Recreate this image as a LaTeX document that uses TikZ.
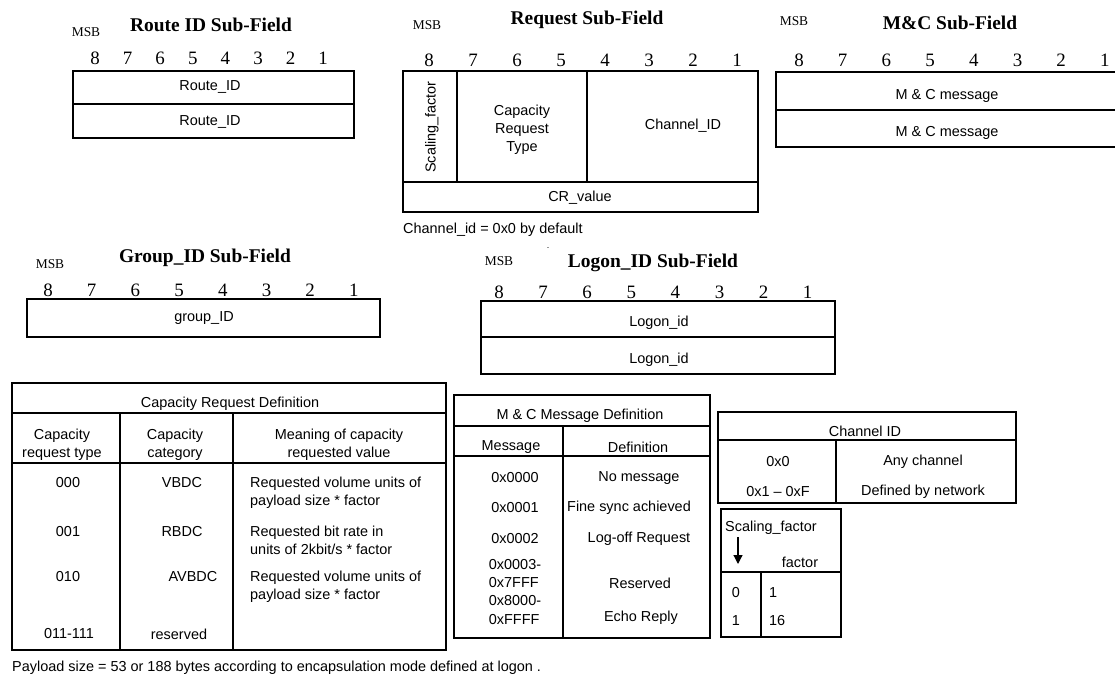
\documentclass[tikz,border=0pt]{standalone}
\usepackage{fontspec}
\setmainfont{Liberation Serif}
\setsansfont{Liberation Sans}
\usetikzlibrary{arrows.meta}
\tikzset{
  lbl/.style={font=\sffamily\fontsize{14.5}{18}\selectfont, inner sep=0pt, align=center},
  lbll/.style={font=\sffamily\fontsize{14.5}{18.5}\selectfont, inner sep=0pt, align=left},
  ttl/.style={font=\bfseries\fontsize{19.5}{22}\selectfont, inner sep=0pt},
  dig/.style={font=\fontsize{19}{21}\selectfont, inner sep=0pt},
  msb/.style={font=\fontsize{13.5}{15}\selectfont, inner sep=0pt},
  box/.style={draw, line width=1.2bp},
  thk/.style={draw, line width=2.4bp},
}
\begin{document}
\begin{tikzpicture}[x=1bp,y=-1bp]
\useasboundingbox (0,0) rectangle (1115,677);

% ---------- Route ID ----------
\node[msb] (rmsb) at (86,32) {MSB};
\node[ttl] (rttl) at (211,25) {Route ID Sub-Field};
\foreach \d [count=\i from 0] in {8,7,6,5,4,3,2,1}
  \node[dig] (rd\d) at ({95+32.6*\i},58) {\d};
\draw[box] (73,71) rectangle (354,138);
\draw[box] (73,104) -- (354,104);
\node[lbl] (r1) at (210,87) {Route\_ID};
\node[lbl] (r2) at (210,122) {Route\_ID};

% ---------- Request ----------
\node[msb] (qmsb) at (427,25) {MSB};
\node[ttl] (qttl) at (587,20) {Request Sub-Field};
\foreach \d [count=\i from 0] in {8,7,6,5,4,3,2,1}
  \node[dig] (qd\d) at ({429+44*\i},60) {\d};
\draw[box] (403,71) rectangle (758,212);
\draw[thk] (403,182) -- (758,182);
\draw[box] (457,71) -- (457,182);
\draw[box] (587,71) -- (587,182);
\node[lbl, rotate=90] (qsf) at (432,127) {Scaling\_factor};
\node[lbl] (qcrt) at (522,130) {Capacity\\Request\\Type};
\node[lbl] (qch) at (683,126) {Channel\_ID};
\node[lbl] (qcr) at (580,198) {CR\_value};
\node[lbl, anchor=west] (qnote) at (403,230) {Channel\_id = 0x0 by default};
\node[font=\sffamily\fontsize{9}{9}\selectfont, inner sep=0pt, anchor=base] (qdot) at (548,248.5) {.};

% ---------- M&C ----------
\node[msb] (mmsb) at (794,21) {MSB};
\node[ttl] (mttl) at (950,23) {M\&C Sub-Field};
\foreach \d [count=\i from 0] in {8,7,6,5,4,3,2,1}
  \node[dig] (md\d) at ({799+43.7*\i},60) {\d};
\draw[box] (1115,72) -- (776,72) -- (776,147) -- (1115,147);
\draw[thk] (776,110) -- (1115,110);
\node[lbl] (m1) at (947,96) {M \& C message};
\node[lbl] (m2) at (947,133) {M \& C message};

% ---------- Group_ID ----------
\node[msb] (gmsb) at (50,264) {MSB};
\node[ttl] (gttl) at (205,258) {Group\_ID Sub-Field};
\foreach \d [count=\i from 0] in {8,7,6,5,4,3,2,1}
  \node[dig] (gd\d) at ({48+43.7*\i},290) {\d};
\draw[box] (27,299) rectangle (380,337);
\node[lbl] (g1) at (204,318) {group\_ID};

% ---------- Logon_ID ----------
\node[msb] (lmsb) at (499,261) {MSB};
\node[ttl] (lttl) at (653,263) {Logon\_ID Sub-Field};
\foreach \d [count=\i from 0] in {8,7,6,5,4,3,2,1}
  \node[dig] (ld\d) at ({499+44.1*\i},292) {\d};
\draw[box] (481,301) rectangle (835,374);
\draw[thk] (481,337) -- (835,337);
\node[lbl] (l1) at (659,323) {Logon\_id};
\node[lbl] (l2) at (659,360) {Logon\_id};

% ---------- Capacity Request Definition table ----------
\draw[box] (12,383) rectangle (446,650);
\draw[box] (12,413) -- (446,413);
\draw[box] (12,463) -- (446,463);
\draw[box] (120,413) -- (120,650);
\draw[box] (233,413) -- (233,650);
\node[lbl] (ct) at (230,404) {Capacity Request Definition};
\node[lbl] (ch1) at (62,444.5) {Capacity\\request type};
\node[lbl] (ch2) at (175,444.5) {Capacity\\category};
\node[lbl] (ch3) at (339,444.5) {Meaning of capacity\\requested value};
\node[lbl] (c11) at (68,483) {000};
\node[lbl] (c12) at (182,483) {VBDC};
\node[lbll, anchor=west] (c13) at (250,492.5) {Requested volume units of\\payload size * factor};
\node[lbl] (c21) at (68,532) {001};
\node[lbl] (c22) at (182,532) {RBDC};
\node[lbll, anchor=west] (c23) at (250,540.5) {Requested bit rate in\\units of 2kbit/s * factor};
\node[lbl] (c31) at (68,577) {010};
\node[lbl] (c32) at (193,577) {AVBDC};
\node[lbll, anchor=west] (c33) at (250,586.5) {Requested volume units of\\payload size * factor};
\node[lbl] (c41) at (69,634) {011-111};
\node[lbl] (c42) at (179,634) {reserved};
\node[lbl, anchor=west] (pay) at (12,668) {Payload size = 53 or 188 bytes according to encapsulation mode defined at logon .};

% ---------- M & C Message Definition table ----------
\draw[box] (454,395) rectangle (710,638);
\draw[box] (454,426) -- (710,426);
\draw[box] (454,456) -- (710,456);
\draw[box] (563,426) -- (563,638);
\node[lbl] (mt) at (580,416) {M \& C Message Definition};
\node[lbl] (mh1) at (511,447) {Message};
\node[lbl] (mh2) at (638,447) {Definition};
\node[lbl] (m11) at (515,478) {0x0000};
\node[lbl] (m12) at (639,478) {No message};
\node[lbl] (m21) at (515,508) {0x0001};
\node[lbl] (m22) at (629,508) {Fine sync achieved};
\node[lbl] (m31) at (515,539) {0x0002};
\node[lbl] (m32) at (639,539) {Log-off Request};
\node[lbll] (m41) at (515,573.5) {0x0003-\\0x7FFF};
\node[lbl] (m42) at (640,583) {Reserved};
\node[lbll] (m51) at (515,610) {0x8000-\\0xFFFF};
\node[lbl] (m52) at (641,618) {Echo Reply};

% ---------- Channel ID table ----------
\draw[box] (718,412) rectangle (1016,503);
\draw[box] (718,440) -- (1016,440);
\draw[box] (836,440) -- (836,503);
\node[lbl] (kt) at (865,431) {Channel ID};
\node[lbl] (k11) at (778,462) {0x0};
\node[lbl] (k12) at (923,462) {Any channel};
\node[lbl] (k21) at (778,492) {0x1 -- 0xF};
\node[lbl] (k22) at (923,492) {Defined by network};

% ---------- Scaling factor table ----------
\draw[box] (721,509) rectangle (841,637);
\draw[box] (721,572) -- (841,572);
\draw[box] (761,572) -- (761,637);
\node[lbl, anchor=west] (st) at (725,528) {Scaling\_factor};
\coordinate (sa) at (738,537);
\coordinate (sb) at (738,564);
\draw[line width=1.2bp, -{Triangle[length=9bp,width=9bp]}] (sa) -- (sb);
\node[lbl] (sf) at (800,562) {factor};
\node[lbl] (s11) at (736,593) {0};
\node[lbl, anchor=west] (s12) at (769,593) {1};
\node[lbl] (s21) at (736,621) {1};
\node[lbl, anchor=west] (s22) at (769,621) {16};
\end{tikzpicture}
\end{document}
